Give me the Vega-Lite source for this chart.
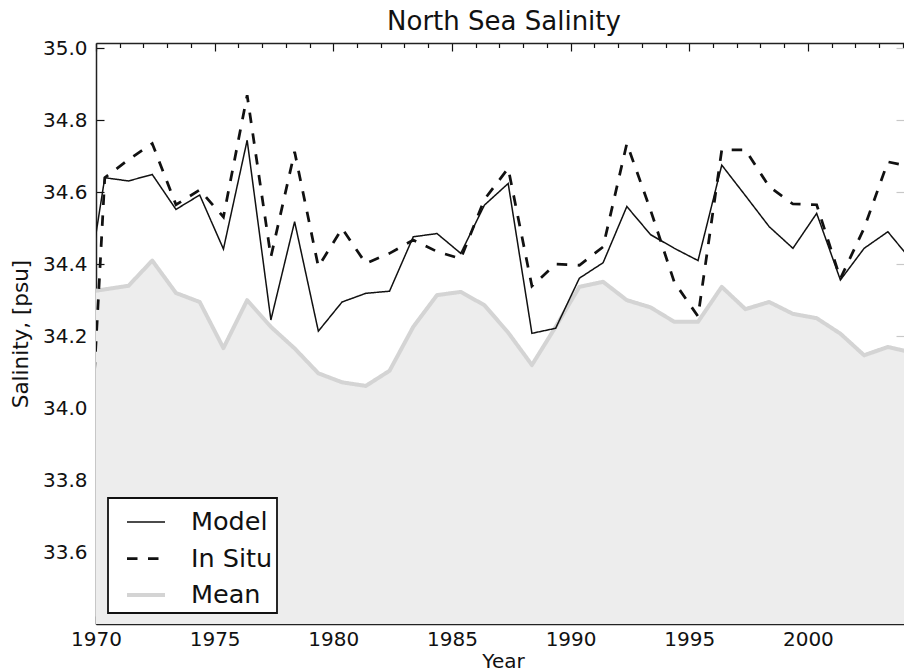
{
  "$schema": "https://vega.github.io/schema/vega-lite/v6.json",
  "autosize": "none",
  "width": 808,
  "height": 581,
  "padding": {"left": 96, "top": 43, "right": 0, "bottom": 48},
  "background": "#ffffff",
  "config": {
    "font": "DejaVu Sans",
    "view": {"stroke": null},
    "axis": {"grid": false, "labelColor": "#111111", "titleColor": "#111111", "tickColor": "#111111", "domainColor": "#222222", "domainWidth": 1.5, "tickWidth": 1.2},
    "legend": {
      "orient": "none", "legendX": 12, "legendY": 455,
      "fillColor": "#ffffff", "strokeColor": "#111111", "strokeWidth": 1.8,
      "padding": 4, "cornerRadius": 0,
      "labelFontSize": 25.5, "labelColor": "#111111", "labelFont": "DejaVu Sans",
      "symbolType": "stroke", "symbolSize": 1444, "symbolOffset": 13,
      "labelOffset": 24, "rowPadding": 2
    }
  },
  "title": {"text": "North Sea Salinity", "fontSize": 26, "fontWeight": "normal", "color": "#111111", "anchor": "middle", "baseline": "alphabetic", "offset": 11, "dx": 4, "dy": 29},
  "data": {
    "values": [
      {"year": 1969.37, "model": 34.22, "insitu": 33.40, "mean": 34.32},
      {"year": 1970.37, "model": 34.64, "insitu": 34.64, "mean": 34.33},
      {"year": 1971.37, "model": 34.631, "insitu": 34.69, "mean": 34.34},
      {"year": 1972.37, "model": 34.649, "insitu": 34.735, "mean": 34.41},
      {"year": 1973.37, "model": 34.552, "insitu": 34.565, "mean": 34.32},
      {"year": 1974.37, "model": 34.592, "insitu": 34.606, "mean": 34.295},
      {"year": 1975.37, "model": 34.442, "insitu": 34.531, "mean": 34.167},
      {"year": 1976.37, "model": 34.744, "insitu": 34.869, "mean": 34.30},
      {"year": 1977.37, "model": 34.245, "insitu": 34.42, "mean": 34.226},
      {"year": 1978.37, "model": 34.518, "insitu": 34.712, "mean": 34.166},
      {"year": 1979.37, "model": 34.214, "insitu": 34.393, "mean": 34.097},
      {"year": 1980.37, "model": 34.295, "insitu": 34.499, "mean": 34.072},
      {"year": 1981.37, "model": 34.319, "insitu": 34.402, "mean": 34.062},
      {"year": 1982.37, "model": 34.325, "insitu": 34.43, "mean": 34.104},
      {"year": 1983.37, "model": 34.476, "insitu": 34.467, "mean": 34.226},
      {"year": 1984.37, "model": 34.485, "insitu": 34.435, "mean": 34.314},
      {"year": 1985.37, "model": 34.43, "insitu": 34.415, "mean": 34.323},
      {"year": 1986.37, "model": 34.564, "insitu": 34.58, "mean": 34.286},
      {"year": 1987.37, "model": 34.624, "insitu": 34.666, "mean": 34.21},
      {"year": 1988.37, "model": 34.208, "insitu": 34.339, "mean": 34.12},
      {"year": 1989.37, "model": 34.222, "insitu": 34.40, "mean": 34.226},
      {"year": 1990.37, "model": 34.361, "insitu": 34.397, "mean": 34.337},
      {"year": 1991.37, "model": 34.404, "insitu": 34.448, "mean": 34.351},
      {"year": 1992.37, "model": 34.56, "insitu": 34.735, "mean": 34.30},
      {"year": 1993.37, "model": 34.482, "insitu": 34.55, "mean": 34.28},
      {"year": 1994.37, "model": 34.444, "insitu": 34.35, "mean": 34.24},
      {"year": 1995.37, "model": 34.41, "insitu": 34.255, "mean": 34.24},
      {"year": 1996.37, "model": 34.675, "insitu": 34.717, "mean": 34.337},
      {"year": 1997.37, "model": 34.59, "insitu": 34.717, "mean": 34.275},
      {"year": 1998.37, "model": 34.504, "insitu": 34.615, "mean": 34.295},
      {"year": 1999.37, "model": 34.444, "insitu": 34.567, "mean": 34.262},
      {"year": 2000.37, "model": 34.541, "insitu": 34.565, "mean": 34.25},
      {"year": 2001.37, "model": 34.356, "insitu": 34.36, "mean": 34.207},
      {"year": 2002.37, "model": 34.444, "insitu": 34.5, "mean": 34.147},
      {"year": 2003.37, "model": 34.49, "insitu": 34.684, "mean": 34.17},
      {"year": 2004.37, "model": 34.41, "insitu": 34.67, "mean": 34.155}
    ]
  },
  "resolve": {"axis": {"x": "independent", "y": "independent"}},
  "layer": [
    {
      "mark": {"type": "area", "color": "#ededed", "clip": true},
      "encoding": {
        "x": {"field": "year", "type": "quantitative",
          "scale": {"domain": [1970, 2004.05], "nice": false, "zero": false},
          "axis": {"orient": "bottom", "values": [1970, 1975, 1980, 1985, 1990, 1995, 2000], "format": "d",
            "ticks": false, "domain": false, "labelFontSize": 20, "labelPadding": 5, "labelFlush": false, "labelOverlap": false,
            "title": "Year", "titleFontSize": 20, "titleFontWeight": "normal", "titlePadding": 2, "titleX": 407}},
        "y": {"field": "mean", "type": "quantitative",
          "scale": {"domain": [33.401, 35.014], "nice": false, "zero": false},
          "axis": {"orient": "left", "values": [33.6, 33.8, 34.0, 34.2, 34.4, 34.6, 34.8, 35.0], "format": ".1f",
            "ticks": false, "domain": false, "labelFontSize": 20, "labelPadding": 9, "labelFlush": false, "labelOverlap": false,
            "title": "Salinity, [psu]", "titleFontSize": 21.5, "titleFontWeight": "normal", "titlePadding": 10}}
      }
    },
    {
      "mark": {"type": "line", "clip": true, "strokeCap": "round", "strokeJoin": "round"},
      "encoding": {
        "x": {"field": "year", "type": "quantitative",
          "axis": {"orient": "bottom", "values": [1970,1971,1972,1973,1974,1975,1976,1977,1978,1979,1980,1981,1982,1983,1984,1985,1986,1987,1988,1989,1990,1991,1992,1993,1994,1995,1996,1997,1998,1999,2000,2001,2002,2003,2004],
            "labels": false, "domain": true, "title": null,
            "tickSize": {"condition": {"test": "datum.value % 5 === 0", "value": -8}, "value": -4.5}}},
        "y": {"field": "mean", "type": "quantitative",
          "axis": {"orient": "left", "values": [33.6, 33.8, 34.0, 34.2, 34.4, 34.6, 34.8, 35.0],
            "labels": false, "domain": true, "title": null, "tickSize": -8}},
        "color": {"datum": "Mean", "type": "nominal", "scale": {"domain": ["Model", "In Situ", "Mean"], "range": ["#111111", "#111111", "#d4d4d4"]}, "legend": {"title": null}},
        "strokeDash": {"datum": "Mean", "type": "nominal", "scale": {"domain": ["Model", "In Situ", "Mean"], "range": [[1, 0], [10.5, 10.5], [1, 0]]}, "legend": {"title": null}},
        "strokeWidth": {"datum": "Mean", "type": "ordinal", "scale": {"domain": ["Model", "In Situ", "Mean"], "range": [1.5, 4, 7.5]}, "legend": {"title": null}}
      }
    },
    {
      "mark": {"type": "line", "clip": true},
      "encoding": {
        "x": {"field": "year", "type": "quantitative",
          "axis": {"orient": "top", "values": [1970,1971,1972,1973,1974,1975,1976,1977,1978,1979,1980,1981,1982,1983,1984,1985,1986,1987,1988,1989,1990,1991,1992,1993,1994,1995,1996,1997,1998,1999,2000,2001,2002,2003,2004],
            "labels": false, "domain": true, "title": null,
            "tickSize": {"condition": {"test": "datum.value % 5 === 0", "value": -8}, "value": -4.5}}},
        "y": {"field": "model", "type": "quantitative",
          "axis": {"orient": "right", "values": [33.6, 33.8, 34.0, 34.2, 34.4, 34.6, 34.8, 35.0],
            "labels": false, "domain": false, "title": null, "tickSize": -8, "tickColor": "#c8c8c8"}},
        "color": {"datum": "Model", "type": "nominal"},
        "strokeDash": {"datum": "Model", "type": "nominal"},
        "strokeWidth": {"datum": "Model", "type": "ordinal"}
      }
    },
    {
      "mark": {"type": "line", "clip": true},
      "encoding": {
        "x": {"field": "year", "type": "quantitative", "axis": null},
        "y": {"field": "insitu", "type": "quantitative", "axis": null},
        "color": {"datum": "In Situ", "type": "nominal"},
        "strokeDash": {"datum": "In Situ", "type": "nominal"},
        "strokeWidth": {"datum": "In Situ", "type": "ordinal"}
      }
    }
  ]
}
